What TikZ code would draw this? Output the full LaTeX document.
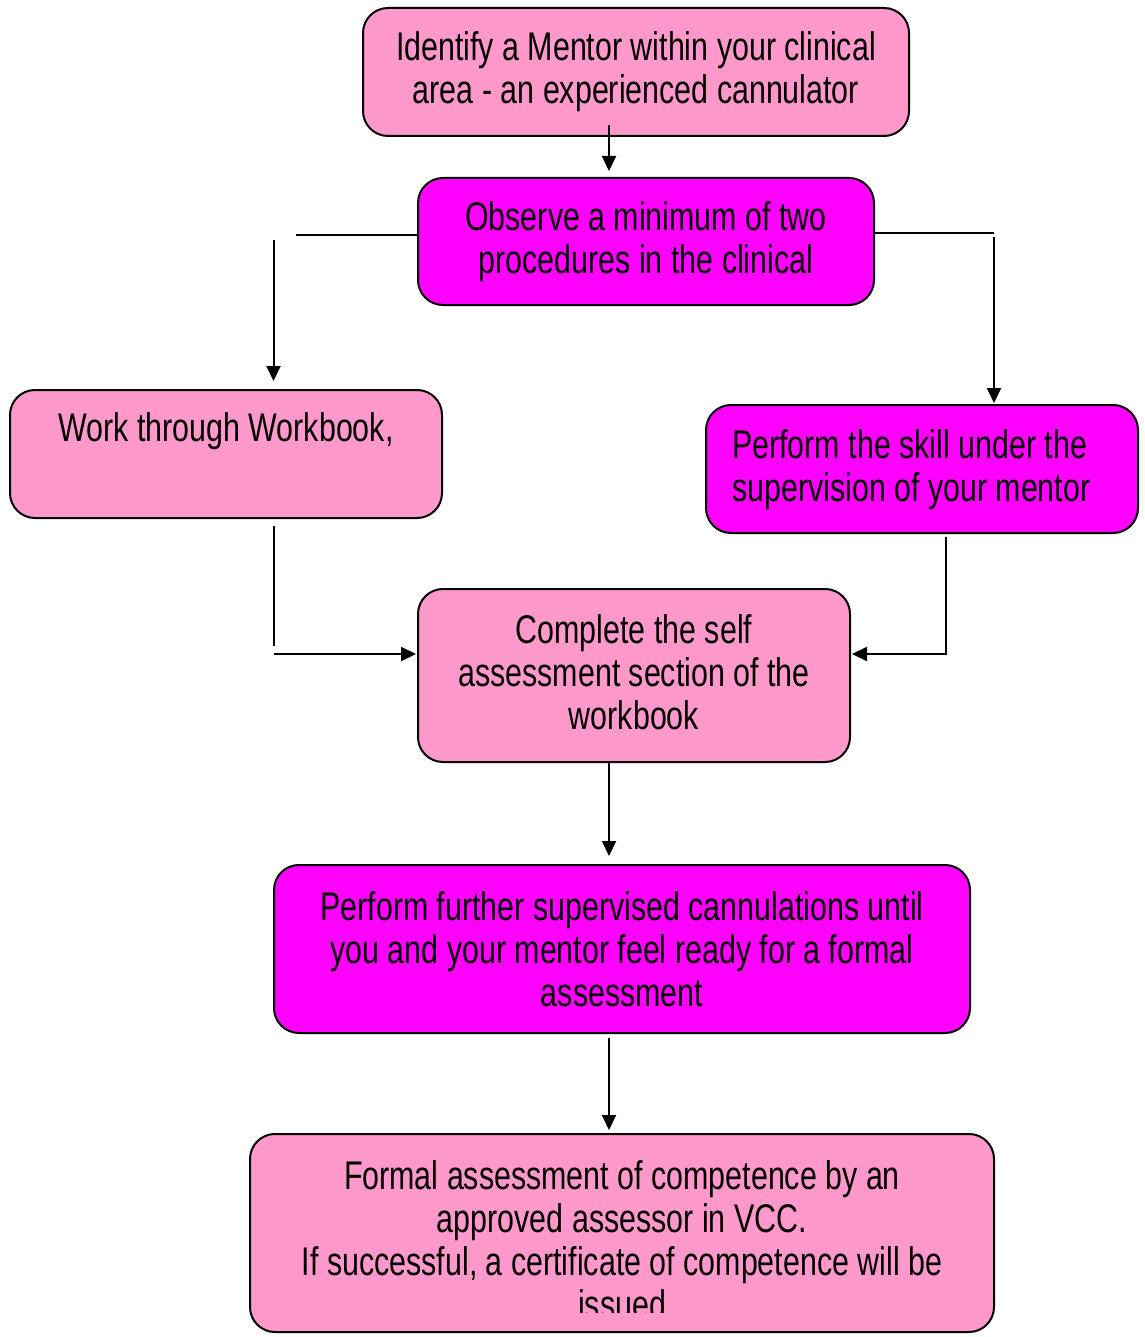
\documentclass[tikz,border=0pt]{standalone}
\usepackage{fontspec}
\setmainfont[FakeStretch=0.76]{Liberation Sans}
\usetikzlibrary{arrows.meta}
\definecolor{lpink}{HTML}{FF99CC}
\definecolor{mag}{HTML}{FF00FF}
\begin{document}
\begin{tikzpicture}[x=1pt,y=-1pt,
 box/.style={draw=black,line width=2pt,rounded corners=25pt,inner sep=0pt,align=center,font=\fontsize{40}{43}\selectfont},
 pinkbox/.style={box,fill=lpink},
 magbox/.style={box,fill=mag},
 txt/.style={inner sep=0pt,align=center,font=\fontsize{40}{43}\selectfont},
 arr/.style={line width=2pt,-{Triangle[length=15pt,width=14pt]}},
 ln/.style={line width=1.6pt}]
\useasboundingbox (0,0) rectangle (1144,1337);
\node[pinkbox,minimum width=546pt,minimum height=128pt] (top) at (636,72) {Identify a Mentor within your clinical\\area - an experienced cannulator};
\node[magbox,minimum width=456pt,minimum height=127pt] (obs) at (646,241.5) {Observe a minimum of two\\procedures in the clinical};
\node[pinkbox,minimum width=432pt,minimum height=128pt] (work) at (226,454) {};
\node[txt] (worktxt) at (226,431) {Work through Workbook,};
\node[magbox,minimum width=432pt,minimum height=128pt] (skill) at (922,469) {};
\node[txt,align=left,anchor=west] (skilltxt) at (732,469.5) {Perform the skill under the\\supervision of your mentor};
\node[pinkbox,minimum width=432pt,minimum height=173pt] (comp) at (634,675.5) {};
\node[txt] (comptxt) at (634,672.5) {Complete the self\\assessment section of the\\workbook};
\node[magbox,minimum width=696pt,minimum height=168pt] (fur) at (622,949) {Perform further supervised cannulations until\\you and your mentor feel ready for a formal\\assessment};
\node[pinkbox,minimum width=744pt,minimum height=198pt] (formal) at (622,1233) {};
\begin{scope}
\clip (250,1134) rectangle (994,1312);
\node[txt] (formaltxt) at (622,1240) {Formal assessment of competence by an\\approved assessor in VCC.\\If successful, a certificate of competence will be\\issued};
\end{scope}
% connectors
\coordinate (x609) at (609,0);
\draw[arr,shorten >=6pt] ([yshift=12pt]top.south -| x609) -- (obs.north -| x609);
\coordinate (L1) at (296,235);
\draw[ln] (obs.west |- L1) -- (L1);
\coordinate (L2) at (273.5,240);
\draw[arr,shorten >=8pt] (L2) -- (work.north -| L2);
\coordinate (R1) at (994,233);
\draw[ln] (obs.east |- R1) -- (R1);
\coordinate (R2) at (994,237);
\draw[arr,shorten >=1pt] (R2) -- (skill.north -| R2);
\coordinate (W1) at (273.5,526);
\coordinate (W2) at (273.5,646);
\draw[line width=2pt] (W1) -- (W2);
\coordinate (W3) at (274,654);
\draw[arr,shorten >=1pt] (W3) -- (comp.west |- W3);
\coordinate (S1) at (946,537);
\coordinate (S2) at (946,654);
\draw[arr,shorten >=1pt] (S1) -- (S2) -- (comp.east |- S2);
\draw[arr,shorten >=8pt] (comp.south -| x609) -- (fur.north -| x609);
\draw[arr,shorten <=4pt,shorten >=3pt] (fur.south -| x609) -- (formal.north -| x609);
\end{tikzpicture}
\end{document}
